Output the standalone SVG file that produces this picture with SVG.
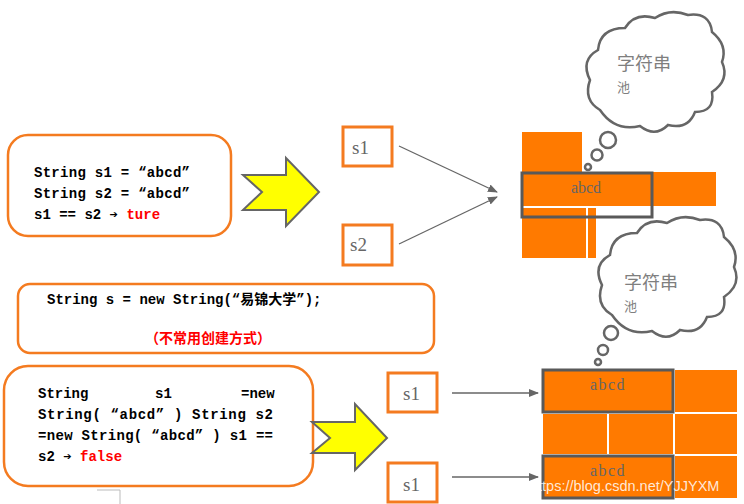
<svg xmlns="http://www.w3.org/2000/svg" width="744" height="504" viewBox="0 0 744 504">
<defs>
<style>
.box{fill:#fff;stroke:#f47b20;stroke-width:2.5}
.sb{fill:#fff;stroke:#f47b20;stroke-width:3}
.code{font-family:"Liberation Mono",monospace;font-size:14px;font-weight:bold;fill:#000}
.red{fill:#ff0000}
.sl{font-family:"Liberation Serif",serif;font-size:19px;fill:#666}
.brick{fill:#ff7a00}
.hl{fill:none;stroke:#595959;stroke-width:3}
.cloud{fill:#fff;stroke:#666;stroke-width:2.5}
.con{stroke:#666;stroke-width:1.3;fill:none;marker-end:url(#ah)}
.yarrow{fill:#ffff00;stroke:#666;stroke-width:2}
.cj{font-family:"Noto Sans CJK SC",sans-serif;fill:#7f7f7f}
</style>
<marker id="ah" markerWidth="10" markerHeight="8" refX="9" refY="4" orient="auto" markerUnits="userSpaceOnUse"><path d="M0,0L10,4L0,8z" fill="#666"/></marker>
</defs>
<rect width="744" height="504" fill="#fff"/>
<path d="M97,490H120V504" fill="none" stroke="#bbb"/>

<g id="bricks-top">
<rect class="brick" x="522" y="132" width="60" height="40"/>
<rect class="brick" x="522" y="172" width="194" height="34"/>
<rect class="brick" x="522" y="208" width="64" height="50"/>
<rect class="brick" x="588" y="208" width="8" height="50"/>
<rect class="hl" x="522" y="173" width="130" height="44"/>
<text x="586" y="193" text-anchor="middle" font-family="Liberation Serif,serif" font-size="16" fill="#666">abcd</text>
</g>
<g id="bricks-bottom">
<rect class="brick" x="543" y="370" width="130" height="42"/>
<rect class="brick" x="675" y="370" width="62" height="42"/>
<rect class="brick" x="543" y="414" width="64" height="40"/>
<rect class="brick" x="609" y="414" width="64" height="40"/>
<rect class="brick" x="675" y="414" width="62" height="40"/>
<rect class="brick" x="543" y="456" width="130" height="42"/>
<rect class="brick" x="675" y="456" width="62" height="42"/>
<rect class="hl" x="543" y="370" width="130" height="42"/>
<rect class="hl" x="543" y="456" width="130" height="42"/>
<text x="608" y="390" text-anchor="middle" font-family="Liberation Serif,serif" font-size="16" letter-spacing="1.5" fill="#666">abcd</text>
<text x="608" y="476" text-anchor="middle" font-family="Liberation Serif,serif" font-size="16" letter-spacing="1.5" fill="#666">abcd</text>
</g>

<g id="cloud1">
<path class="cloud" d="M600,110 Q583,100 590,80 Q580,60 598,50 Q600,28 625,28 Q635,12 655,18 Q670,8 688,15 Q710,12 712,32 Q728,45 722,62 Q730,80 712,92 Q715,112 695,112 Q688,130 668,125 Q655,138 640,126 Q615,132 600,110Z"/>
<circle class="cloud" cx="608" cy="140" r="8"/>
<circle class="cloud" cx="597" cy="155" r="5.5"/>
<circle class="cloud" cx="588" cy="167" r="3"/>
<text class="cj" x="617" y="70" font-size="18">字符串</text>
<text class="cj" x="617" y="92" font-size="13" fill="#b06020">池</text>
</g>
<g id="cloud2">
<path class="cloud" d="M612,315 Q595,305 602,285 Q592,265 610,255 Q612,233 637,233 Q647,217 667,223 Q682,213 700,220 Q722,217 724,237 Q740,250 734,267 Q742,285 724,297 Q727,317 707,317 Q700,335 680,330 Q667,343 652,331 Q627,337 612,315Z"/>
<circle class="cloud" cx="611" cy="333" r="7"/>
<circle class="cloud" cx="603" cy="350" r="5"/>
<circle class="cloud" cx="598" cy="362" r="3"/>
<text class="cj" x="624" y="289" font-size="18">字符串</text>
<text class="cj" x="624" y="311" font-size="13" fill="#7fa0c0">池</text>
</g>

<g id="box1">
<rect class="box" x="8" y="135" width="223" height="101" rx="20"/>
<text class="code" x="34" y="177" textLength="156" lengthAdjust="spacing">String s1 = “abcd”</text>
<text class="code" x="34" y="198" textLength="156" lengthAdjust="spacing">String s2 = “abcd”</text>
<text class="code" x="34" y="219">s1 == s2 ➔ <tspan class="red">ture</tspan></text>
</g>
<g id="box2">
<rect class="box" x="18" y="284" width="416" height="69" rx="12"/>
<text class="code" x="47" y="304">String s = new String(“<tspan font-family="Noto Sans CJK SC,sans-serif">易锦大学</tspan>”);</text>
<text x="208" y="343" text-anchor="middle" font-family="Noto Sans CJK SC,sans-serif" font-weight="bold" font-size="14" fill="#ff0000">（不常用创建方式）</text>
</g>
<g id="box3">
<rect class="box" x="4" y="366" width="309" height="120" rx="24"/>
<text class="code" x="38" y="398">String</text><text class="code" x="155" y="398">s1</text><text class="code" x="241" y="398">=new</text>
<text class="code" x="38" y="419" textLength="235" lengthAdjust="spacing">String( “abcd” )  String s2</text>
<text class="code" x="38" y="440" textLength="235" lengthAdjust="spacing">=new String( “abcd” )  s1 ==</text>
<text class="code" x="38" y="461">s2 ➔ <tspan class="red">false</tspan></text>
</g>

<g id="arrow1"><path class="yarrow" d="M243,175H286V158L319,192L286,226V210H243L262,192Z"/></g>
<g id="arrow2"><path class="yarrow" d="M312,422H355V404L387,438L355,470V453H312L330,438Z"/></g>

<g id="s-boxes">
<rect class="sb" x="343" y="127" width="49" height="39"/><text class="sl" x="352" y="154">s1</text>
<rect class="sb" x="343" y="225" width="49" height="40"/><text class="sl" x="350" y="251">s2</text>
<rect class="sb" x="388" y="373" width="49" height="39"/><text class="sl" x="403" y="400">s1</text>
<rect class="sb" x="388" y="463" width="49" height="39"/><text class="sl" x="403" y="491">s1</text>
</g>

<g id="connectors">
<line class="con" x1="399" y1="146" x2="497" y2="192"/>
<line class="con" x1="399" y1="244" x2="497" y2="197"/>
<line class="con" x1="452" y1="393" x2="538" y2="393"/>
<line class="con" x1="452" y1="477" x2="538" y2="477"/>
</g>
<text x="530" y="491" font-family="Liberation Sans,sans-serif" font-size="14.5" fill="#fff" fill-opacity="0.85">https://blog.csdn.net/YJJYXM</text>
</svg>
